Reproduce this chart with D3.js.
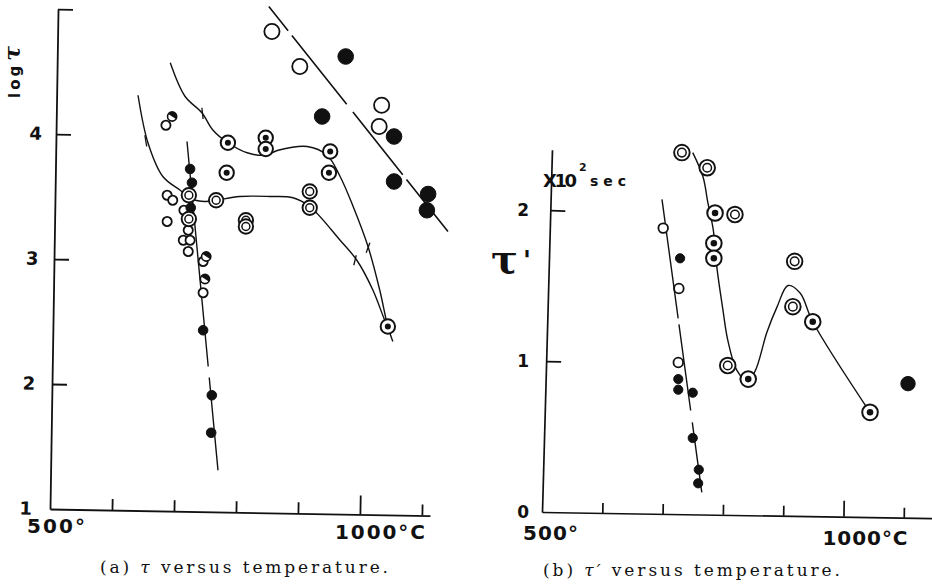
<!DOCTYPE html>
<html>
<head>
<meta charset="utf-8">
<script src="https://cdn.jsdelivr.net/npm/d3@7"></script>
<style>
  html, body { margin: 0; padding: 0; background: #fff; }
  svg { display: block; }
</style>
</head>
<body>
<svg id="fig" width="932" height="585"></svg>
<script>
// ---------------- Panel (a): log tau versus temperature (deg C) ----------------
const aXTicks = [600, 700, 800, 900, 1000, 1100];
const aYTicks = [2, 3, 4, 5];
const aYLabels = [1, 2, 3, 4];

// [temperature, log tau]
const aOpenLarge = [[858, 4.82], [903, 4.54], [1035, 4.23], [1031, 4.06]];
const aSolidLarge = [[977, 4.62], [939, 4.14], [1055, 3.98], [1055, 3.62], [1110, 3.52], [1108, 3.39]];
const aDotRing = [[787, 3.93], [848, 3.97], [848, 3.88], [785, 3.69], [952, 3.86], [950, 3.69], [1045, 2.46]];
const aDoubleRing = [[768, 3.47], [724, 3.51], [724, 3.32], [919, 3.54], [919, 3.41], [816, 3.31], [816, 3.26]];
const aSmallOpen = [[687, 4.07], [689, 3.51], [698, 3.47], [689, 3.30], [716, 3.39], [723, 3.23],
                    [715, 3.15], [726, 3.15], [723, 3.06], [747, 2.98], [747, 2.73]];
const aSmallHalf = [[697, 4.14], [752, 3.02], [750, 2.84]];
const aSmallSolid = [[726, 3.72], [729, 3.61], [727, 3.41], [747, 2.43], [761, 1.91], [760, 1.61]];

const aSteepLine = [[721, 3.94], [771, 1.31]];
const aDashedLine = [[853, 5.02], [1142, 3.22]];
const aUpperCurve = [[694, 4.57], [718, 4.30], [745, 4.17], [763, 4.03], [787, 3.93], [818, 3.85],
                     [847, 3.83], [868, 3.87], [915, 3.90], [947, 3.83], [968, 3.66], [989, 3.42],
                     [1013, 3.10], [1032, 2.75], [1045, 2.46], [1053, 2.34]];
const aLowerCurve = [[642, 4.31], [658, 3.93], [682, 3.66], [710, 3.55], [729, 3.48], [750, 3.46],
                     [768, 3.47], [806, 3.50], [855, 3.50], [892, 3.49], [919, 3.42], [968, 3.15],
                     [995, 2.99], [1021, 2.75], [1040, 2.51], [1045, 2.46]];
const aArrowMarks = [[[653, 3.99], [656, 3.90]], [[745, 4.21], [747, 4.12]],
                     [[1016, 3.13], [1010, 3.05]], [[994, 3.03], [990, 2.95]]];

// ---------------- Panel (b): tau' (x10^2 sec) versus temperature ----------------
const bXTicks = [600, 700, 800, 900, 1000, 1100];
const bYTicks = [1, 2];
const bYLabels = [0, 1, 2];

const bDoubleRing = [[732, 2.38], [774, 2.28], [820, 1.97], [919, 1.66], [916, 1.36], [808, 0.97]];
const bDotRing = [[787, 1.98], [785, 1.78], [785, 1.68], [949, 1.26], [842, 0.88], [1044, 0.66]];
const bSolidLarge = [[1107, 0.85]];
const bSmallOpen = [[701, 1.88], [727, 1.48], [726, 0.99]];
const bSmallSolid = [[729, 1.68], [726, 0.88], [726, 0.81], [750, 0.79], [750, 0.49], [760, 0.28], [759, 0.19]];

const bSteepLine = [[699, 2.07], [765, 0.13]];
const bCurve = [[750, 2.38], [767, 2.22], [775, 2.05], [784, 1.87], [790, 1.62], [800, 1.34],
                [808, 1.14], [823, 0.94], [840, 0.87], [853, 0.93], [873, 1.19], [890, 1.36],
                [908, 1.50], [928, 1.45], [949, 1.26], [1044, 0.66]];

// ---------------------------------------------------------------------------------
const INK = "#111";
const SANS = "'DejaVu Sans', 'Liberation Sans', sans-serif";
const SERIF = "'DejaVu Serif', 'Liberation Serif', serif";
const svg = d3.select("#fig");
svg.append("rect").attr("width", 932).attr("height", 585).attr("fill", "#fff");

function styleAxis(g, w) {
  g.selectAll("path.domain").attr("stroke", INK).attr("stroke-width", w);
  g.selectAll(".tick line").attr("stroke", INK).attr("stroke-width", w);
}

function drawMarks(g, sx, sy, pts, kind, r) {
  const sel = g.append("g").selectAll("g").data(pts).join("g")
    .attr("transform", d => `translate(${sx(d[0])},${sy(d[1])})`);
  if (kind === "open") {
    sel.append("circle").attr("r", r).attr("fill", "#fff").attr("stroke", INK).attr("stroke-width", 1.8);
  } else if (kind === "solid") {
    sel.append("circle").attr("r", r).attr("fill", INK).attr("stroke", INK).attr("stroke-width", 1);
  } else if (kind === "dot") {
    sel.append("circle").attr("r", r).attr("fill", "#fff").attr("stroke", INK).attr("stroke-width", 2);
    sel.append("circle").attr("r", r * 0.42).attr("fill", INK);
  } else if (kind === "double") {
    sel.append("circle").attr("r", r).attr("fill", "#fff").attr("stroke", INK).attr("stroke-width", 1.9);
    sel.append("circle").attr("r", r * 0.55).attr("fill", "none").attr("stroke", INK).attr("stroke-width", 1.5);
  } else if (kind === "half") {
    sel.append("circle").attr("r", r).attr("fill", "#fff").attr("stroke", INK).attr("stroke-width", 1.6);
    sel.append("path").attr("fill", INK)
      .attr("d", d3.arc()({innerRadius: 0, outerRadius: r, startAngle: -Math.PI / 2 + 0.6, endAngle: Math.PI / 2 + 0.6}));
  }
}

const intFmt = d3.format("d");

// ======================= Panel (a) =======================
const ax = d3.scaleLinear().domain([500, 1113]).range([50, 430]);
const ay = d3.scaleLinear().domain([1, 5]).range([509, 9]);
const A = svg.append("g");

// y axis (slightly leaning, as printed)
const aYAxis = A.append("g").attr("transform", "rotate(0.92,50,509) translate(50,0)")
  .call(d3.axisLeft(ay).tickValues(aYTicks).tickSize(-15).tickSizeOuter(0).tickFormat(""));
styleAxis(aYAxis, 1.8);
A.append("g").attr("transform", "rotate(1.5,50,509) translate(50,0)")
  .call(d3.axisLeft(ay).tickValues(aYLabels).tickSize(0).tickPadding(18).tickFormat(intFmt))
  .call(g => g.select(".domain").remove())
  .call(g => g.selectAll("text").attr("fill", INK).attr("font-family", SANS)
    .attr("font-weight", "bold").attr("font-size", 18));

// x axis
const aXAxis = A.append("g").attr("transform", "rotate(1.0,50,509) translate(0,509)")
  .call(d3.axisBottom(ax).tickValues(aXTicks).tickSize(-11).tickSizeOuter(0).tickFormat(""));
styleAxis(aXAxis, 1.8);
aXAxis.selectAll(".tick line").filter(d => d === 1000).attr("y2", -19);

A.append("text").attr("x", ax(500) - 23).attr("y", 533).text("500°")
  .attr("font-family", SANS).attr("font-weight", "bold").attr("font-size", 20)
  .attr("textLength", 58).attr("lengthAdjust", "spacing").attr("fill", INK);
A.append("text").attr("x", ax(1000) - 25).attr("y", 539).text("1000°C")
  .attr("font-family", SANS).attr("font-weight", "bold").attr("font-size", 20)
  .attr("textLength", 90).attr("lengthAdjust", "spacing").attr("fill", INK);

// y title: log tau (reads upward)
const aTitle = A.append("text").attr("transform", "translate(20,98) rotate(-90)").attr("fill", INK);
aTitle.append("tspan").text("log").attr("font-family", SANS).attr("font-weight", "bold")
  .attr("font-size", 15).attr("letter-spacing", 3);
aTitle.append("tspan").text("τ").attr("dx", 2).attr("font-family", SERIF).attr("font-style", "italic")
  .attr("font-weight", "bold").attr("font-size", 22);

// lines and curves
const lineA = d3.line().x(d => ax(d[0])).y(d => ay(d[1]));
const curveA = d3.line().x(d => ax(d[0])).y(d => ay(d[1])).curve(d3.curveCatmullRom.alpha(0.5));
const LW = 1.4;
A.append("path").attr("d", lineA(aSteepLine)).attr("fill", "none").attr("stroke", INK)
  .attr("stroke-width", LW).attr("stroke-dasharray", "226,11,400");
A.append("path").attr("d", lineA(aDashedLine)).attr("fill", "none").attr("stroke", INK)
  .attr("stroke-width", 1.6).attr("stroke-dasharray", "31,6,88,10,80,6,200");
A.append("path").attr("d", curveA(aUpperCurve)).attr("fill", "none").attr("stroke", INK).attr("stroke-width", LW);
A.append("path").attr("d", curveA(aLowerCurve)).attr("fill", "none").attr("stroke", INK).attr("stroke-width", LW);
A.append("g").selectAll("path").data(aArrowMarks).join("path")
  .attr("d", d => lineA(d)).attr("fill", "none").attr("stroke", INK).attr("stroke-width", 1.3);

// data marks
drawMarks(A, ax, ay, aSmallOpen, "open", 4.6);
drawMarks(A, ax, ay, aSmallHalf, "half", 4.6);
drawMarks(A, ax, ay, aSmallSolid, "solid", 4.8);
drawMarks(A, ax, ay, aDoubleRing, "double", 7.2);
drawMarks(A, ax, ay, aDotRing, "dot", 7.2);
drawMarks(A, ax, ay, aOpenLarge, "open", 7.6);
drawMarks(A, ax, ay, aSolidLarge, "solid", 7.8);

// caption
const capA = A.append("text").attr("x", 100).attr("y", 573).attr("fill", INK)
  .attr("font-family", SERIF).attr("font-size", 17).attr("textLength", 288).attr("lengthAdjust", "spacing");
capA.append("tspan").text("(a)  ");
capA.append("tspan").text("τ").attr("font-style", "italic");
capA.append("tspan").text(" versus temperature.");

// ======================= Panel (b) =======================
const bx = d3.scaleLinear().domain([500, 1170]).range([542, 946]);
const by = d3.scaleLinear().domain([0, 2.4]).range([512, 149.6]);
const B = svg.append("g");

const bYAxis = B.append("g").attr("transform", "rotate(1.58,542,512) translate(542,0)")
  .call(d3.axisLeft(by).tickValues(bYTicks).tickSize(-15).tickSizeOuter(0).tickFormat(""));
styleAxis(bYAxis, 1.7);
B.append("g").attr("transform", "translate(542,0)")
  .call(d3.axisLeft(by).tickValues(bYLabels).tickSize(0).tickPadding(13).tickFormat(intFmt))
  .call(g => g.select(".domain").remove())
  .call(g => g.selectAll("text").attr("fill", INK).attr("font-family", SANS)
    .attr("font-weight", "bold").attr("font-size", 17));

const bXAxis = B.append("g").attr("transform", "rotate(0.9,542,512) translate(0,512)")
  .call(d3.axisBottom(bx).tickValues(bXTicks).tickSize(-10).tickSizeOuter(0).tickFormat(""));
styleAxis(bXAxis, 1.7);
bXAxis.selectAll(".tick line").filter(d => d === 1000).attr("y2", -16);

B.append("text").attr("x", bx(500) - 19).attr("y", 540).text("500°")
  .attr("font-family", SANS).attr("font-weight", "bold").attr("font-size", 20)
  .attr("textLength", 55).attr("lengthAdjust", "spacing").attr("fill", INK);
B.append("text").attr("x", bx(1000) - 21).attr("y", 545).text("1000°C")
  .attr("font-family", SANS).attr("font-weight", "bold").attr("font-size", 20)
  .attr("textLength", 85).attr("lengthAdjust", "spacing").attr("fill", INK);

// y title: tau' and unit
B.append("text").attr("x", 491).attr("y", 273).text("τ").attr("fill", INK)
  .attr("font-family", "'DejaVu Serif', serif").attr("font-weight", "bold").attr("font-size", 40);
B.append("text").attr("x", 523).attr("y", 270).text("'").attr("fill", INK)
  .attr("font-family", SANS).attr("font-weight", "bold").attr("font-size", 26);
B.append("text").attr("x", 543).attr("y", 187).text("X10").attr("fill", INK)
  .attr("font-family", SANS).attr("font-weight", "bold").attr("font-size", 18)
  .attr("textLength", 34).attr("lengthAdjust", "spacing");
B.append("text").attr("x", 579).attr("y", 171).text("2").attr("fill", INK)
  .attr("font-family", SANS).attr("font-weight", "bold").attr("font-size", 11);
B.append("text").attr("x", 590).attr("y", 186).text("sec").attr("fill", INK)
  .attr("font-family", SANS).attr("font-weight", "bold").attr("font-size", 14)
  .attr("textLength", 36).attr("lengthAdjust", "spacing");

const lineB = d3.line().x(d => bx(d[0])).y(d => by(d[1]));
const curveB = d3.line().x(d => bx(d[0])).y(d => by(d[1])).curve(d3.curveCatmullRom.alpha(0.5));
B.append("path").attr("d", lineB(bSteepLine)).attr("fill", "none").attr("stroke", INK)
  .attr("stroke-width", LW).attr("stroke-dasharray", "120,6,87,12,200");
B.append("path").attr("d", curveB(bCurve)).attr("fill", "none").attr("stroke", INK).attr("stroke-width", LW);

drawMarks(B, bx, by, bSmallOpen, "open", 4.8);
drawMarks(B, bx, by, bSmallSolid, "solid", 4.6);
drawMarks(B, bx, by, bDoubleRing, "double", 7.8);
drawMarks(B, bx, by, bDotRing, "dot", 7.8);
drawMarks(B, bx, by, bSolidLarge, "solid", 7.2);

const capB = B.append("text").attr("x", 543).attr("y", 576).attr("fill", INK)
  .attr("font-family", SERIF).attr("font-size", 17).attr("textLength", 297).attr("lengthAdjust", "spacing");
capB.append("tspan").text("(b)  ");
capB.append("tspan").text("τ′").attr("font-style", "italic");
capB.append("tspan").text(" versus temperature.");
</script>
</body>
</html>
